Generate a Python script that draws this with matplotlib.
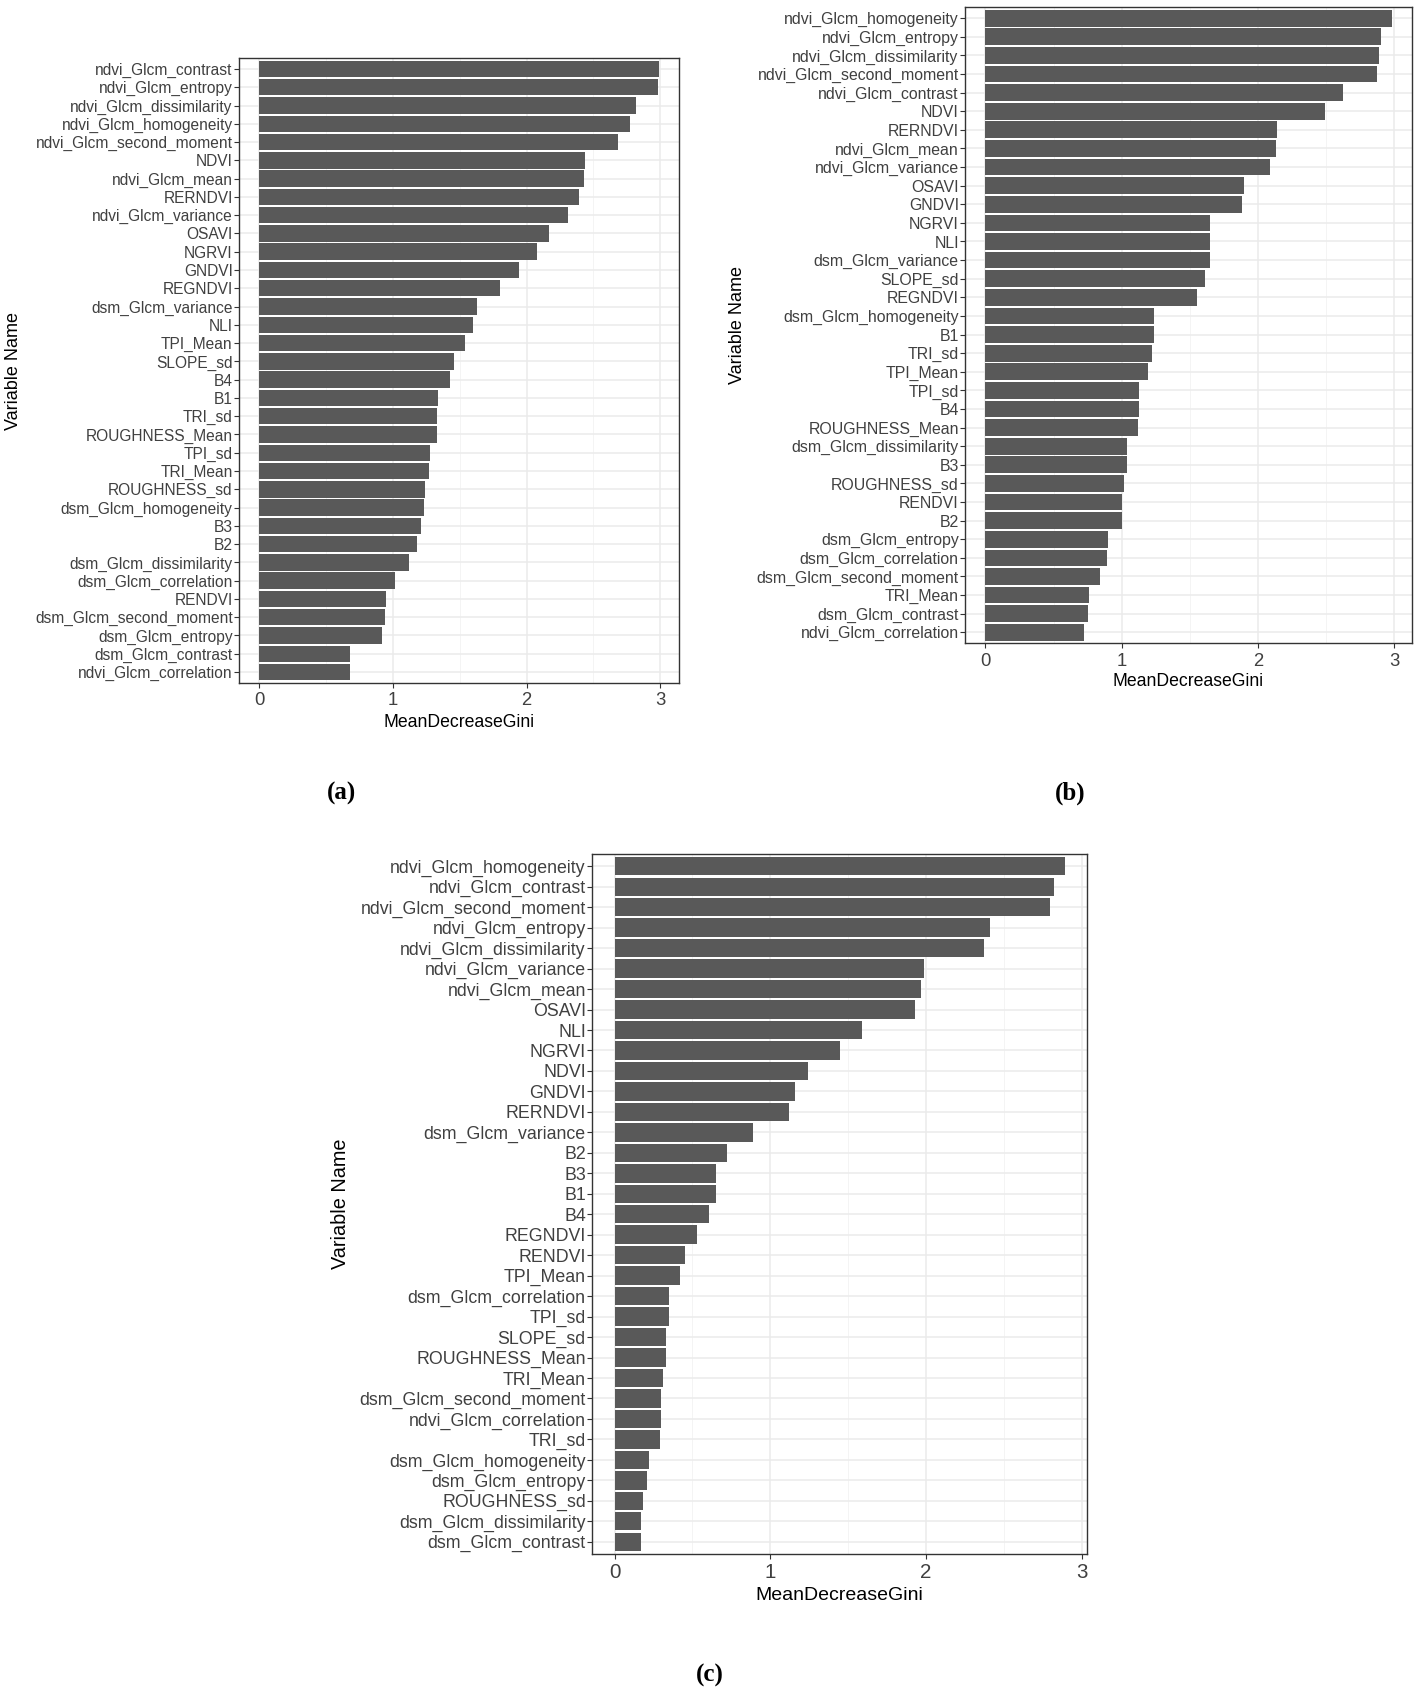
import numpy as np
import matplotlib
matplotlib.use('Agg')
import matplotlib.pyplot as plt
from matplotlib.ticker import MultipleLocator

plt.rcParams['font.family'] = ['Liberation Sans', 'DejaVu Sans']

# --- data, top bar first ---
names_a = ['ndvi_Glcm_contrast', 'ndvi_Glcm_entropy', 'ndvi_Glcm_dissimilarity', 'ndvi_Glcm_homogeneity',
           'ndvi_Glcm_second_moment', 'NDVI', 'ndvi_Glcm_mean', 'RERNDVI', 'ndvi_Glcm_variance', 'OSAVI',
           'NGRVI', 'GNDVI', 'REGNDVI', 'dsm_Glcm_variance', 'NLI', 'TPI_Mean', 'SLOPE_sd', 'B4', 'B1',
           'TRI_sd', 'ROUGHNESS_Mean', 'TPI_sd', 'TRI_Mean', 'ROUGHNESS_sd', 'dsm_Glcm_homogeneity', 'B3',
           'B2', 'dsm_Glcm_dissimilarity', 'dsm_Glcm_correlation', 'RENDVI', 'dsm_Glcm_second_moment',
           'dsm_Glcm_entropy', 'dsm_Glcm_contrast', 'ndvi_Glcm_correlation']
gini_a = [2.99, 2.98, 2.82, 2.77, 2.68, 2.44, 2.43, 2.39, 2.31, 2.17,
          2.08, 1.94, 1.80, 1.63, 1.60, 1.54, 1.46, 1.43, 1.34,
          1.33, 1.33, 1.28, 1.27, 1.24, 1.23, 1.21,
          1.18, 1.12, 1.02, 0.95, 0.94,
          0.92, 0.68, 0.68]

names_b = ['ndvi_Glcm_homogeneity', 'ndvi_Glcm_entropy', 'ndvi_Glcm_dissimilarity', 'ndvi_Glcm_second_moment',
           'ndvi_Glcm_contrast', 'NDVI', 'RERNDVI', 'ndvi_Glcm_mean', 'ndvi_Glcm_variance', 'OSAVI', 'GNDVI',
           'NGRVI', 'NLI', 'dsm_Glcm_variance', 'SLOPE_sd', 'REGNDVI', 'dsm_Glcm_homogeneity', 'B1', 'TRI_sd',
           'TPI_Mean', 'TPI_sd', 'B4', 'ROUGHNESS_Mean', 'dsm_Glcm_dissimilarity', 'B3', 'ROUGHNESS_sd',
           'RENDVI', 'B2', 'dsm_Glcm_entropy', 'dsm_Glcm_correlation', 'dsm_Glcm_second_moment', 'TRI_Mean',
           'dsm_Glcm_contrast', 'ndvi_Glcm_correlation']
gini_b = [2.98, 2.90, 2.89, 2.87, 2.62, 2.49, 2.14, 2.13, 2.09, 1.90, 1.88,
          1.65, 1.65, 1.65, 1.61, 1.55, 1.24, 1.24, 1.22,
          1.19, 1.13, 1.13, 1.12, 1.04, 1.04, 1.02,
          1.00, 1.00, 0.90, 0.89, 0.84, 0.76,
          0.75, 0.72]

names_c = ['ndvi_Glcm_homogeneity', 'ndvi_Glcm_contrast', 'ndvi_Glcm_second_moment', 'ndvi_Glcm_entropy',
           'ndvi_Glcm_dissimilarity', 'ndvi_Glcm_variance', 'ndvi_Glcm_mean', 'OSAVI', 'NLI', 'NGRVI', 'NDVI',
           'GNDVI', 'RERNDVI', 'dsm_Glcm_variance', 'B2', 'B3', 'B1', 'B4', 'REGNDVI', 'RENDVI', 'TPI_Mean',
           'dsm_Glcm_correlation', 'TPI_sd', 'SLOPE_sd', 'ROUGHNESS_Mean', 'TRI_Mean', 'dsm_Glcm_second_moment',
           'ndvi_Glcm_correlation', 'TRI_sd', 'dsm_Glcm_homogeneity', 'dsm_Glcm_entropy', 'ROUGHNESS_sd',
           'dsm_Glcm_dissimilarity', 'dsm_Glcm_contrast']
gini_c = [2.89, 2.82, 2.80, 2.41, 2.37, 1.99, 1.97, 1.93, 1.59, 1.45, 1.24,
          1.16, 1.12, 0.89, 0.72, 0.65, 0.65, 0.61, 0.53, 0.45, 0.42,
          0.35, 0.35, 0.33, 0.33, 0.31, 0.30,
          0.30, 0.29, 0.22, 0.21, 0.18,
          0.17, 0.17]

W, H = 1418, 1692
fig = plt.figure(figsize=(W / 100, H / 100), dpi=100)


def px_box(l, r, t, b):
    return [l / W, 1 - b / H, (r - l) / W, (b - t) / H]


def draw_panel(names, vals, l, r, t, b, fs, fs_x, fs_title, ylab_x, xlab_y):
    ax = fig.add_axes(px_box(l, r, t, b))
    n = len(names)
    y = np.arange(n)
    ax.barh(y, vals, height=0.9, color='#595959', zorder=2)
    ax.set_ylim(n - 0.4, -0.6)
    vmax = max(vals)
    ax.set_xlim(-0.05 * vmax, 1.05 * vmax)
    ax.set_yticks(y)
    ax.set_yticklabels(names)
    ax.xaxis.set_major_locator(MultipleLocator(1))
    ax.xaxis.set_minor_locator(MultipleLocator(0.5))
    ax.grid(True, which='major', color='#EBEBEB', lw=1.1, zorder=0)
    ax.grid(True, which='minor', axis='x', color='#F2F2F2', lw=0.6, zorder=0)
    ax.set_axisbelow(True)
    for s in ax.spines.values():
        s.set_color('#333333')
        s.set_linewidth(1.0)
    ax.tick_params(axis='y', length=3.5, width=0.8, color='#333333', labelcolor='#404040',
                   labelsize=fs, pad=1)
    ax.tick_params(axis='x', length=3.5, width=0.8, color='#333333', labelcolor='#404040',
                   labelsize=fs_x, pad=3)
    ax.tick_params(axis='x', which='minor', length=0)
    ah = b - t
    aw = r - l
    ax.set_xlabel('MeanDecreaseGini', fontsize=fs_title, color='black')
    ax.xaxis.set_label_coords(0.5, -(xlab_y - b) / ah)
    ax.xaxis.label.set_verticalalignment('center')
    ax.set_ylabel('Variable Name', fontsize=fs_title + 0.3, color='black')
    ax.yaxis.set_label_coords((ylab_x - l) / aw, 0.5)
    ax.yaxis.label.set_verticalalignment('center')
    return ax


draw_panel(names_a, gini_a, 239, 679, 58, 683, 11.2, 13.3, 12.7, 14, 722)
draw_panel(names_b, gini_b, 965, 1412, 7, 643.5, 11.4, 13.3, 12.7, 737, 681)
draw_panel(names_c, gini_c, 592, 1087, 854, 1554, 12.8, 14.8, 14, 341, 1595)

lab_font = dict(family=['Liberation Serif', 'DejaVu Serif'], fontweight='bold', fontsize=18,
                ha='center', va='center')
fig.text(342 / W, 1 - 793 / H, '(a)', **lab_font)
fig.text(1070 / W, 1 - 793 / H, '(b)', **lab_font)
fig.text(710 / W, 1 - 1675 / H, '(c)', **lab_font)

fig.savefig('out.png', dpi=100, facecolor='white')
